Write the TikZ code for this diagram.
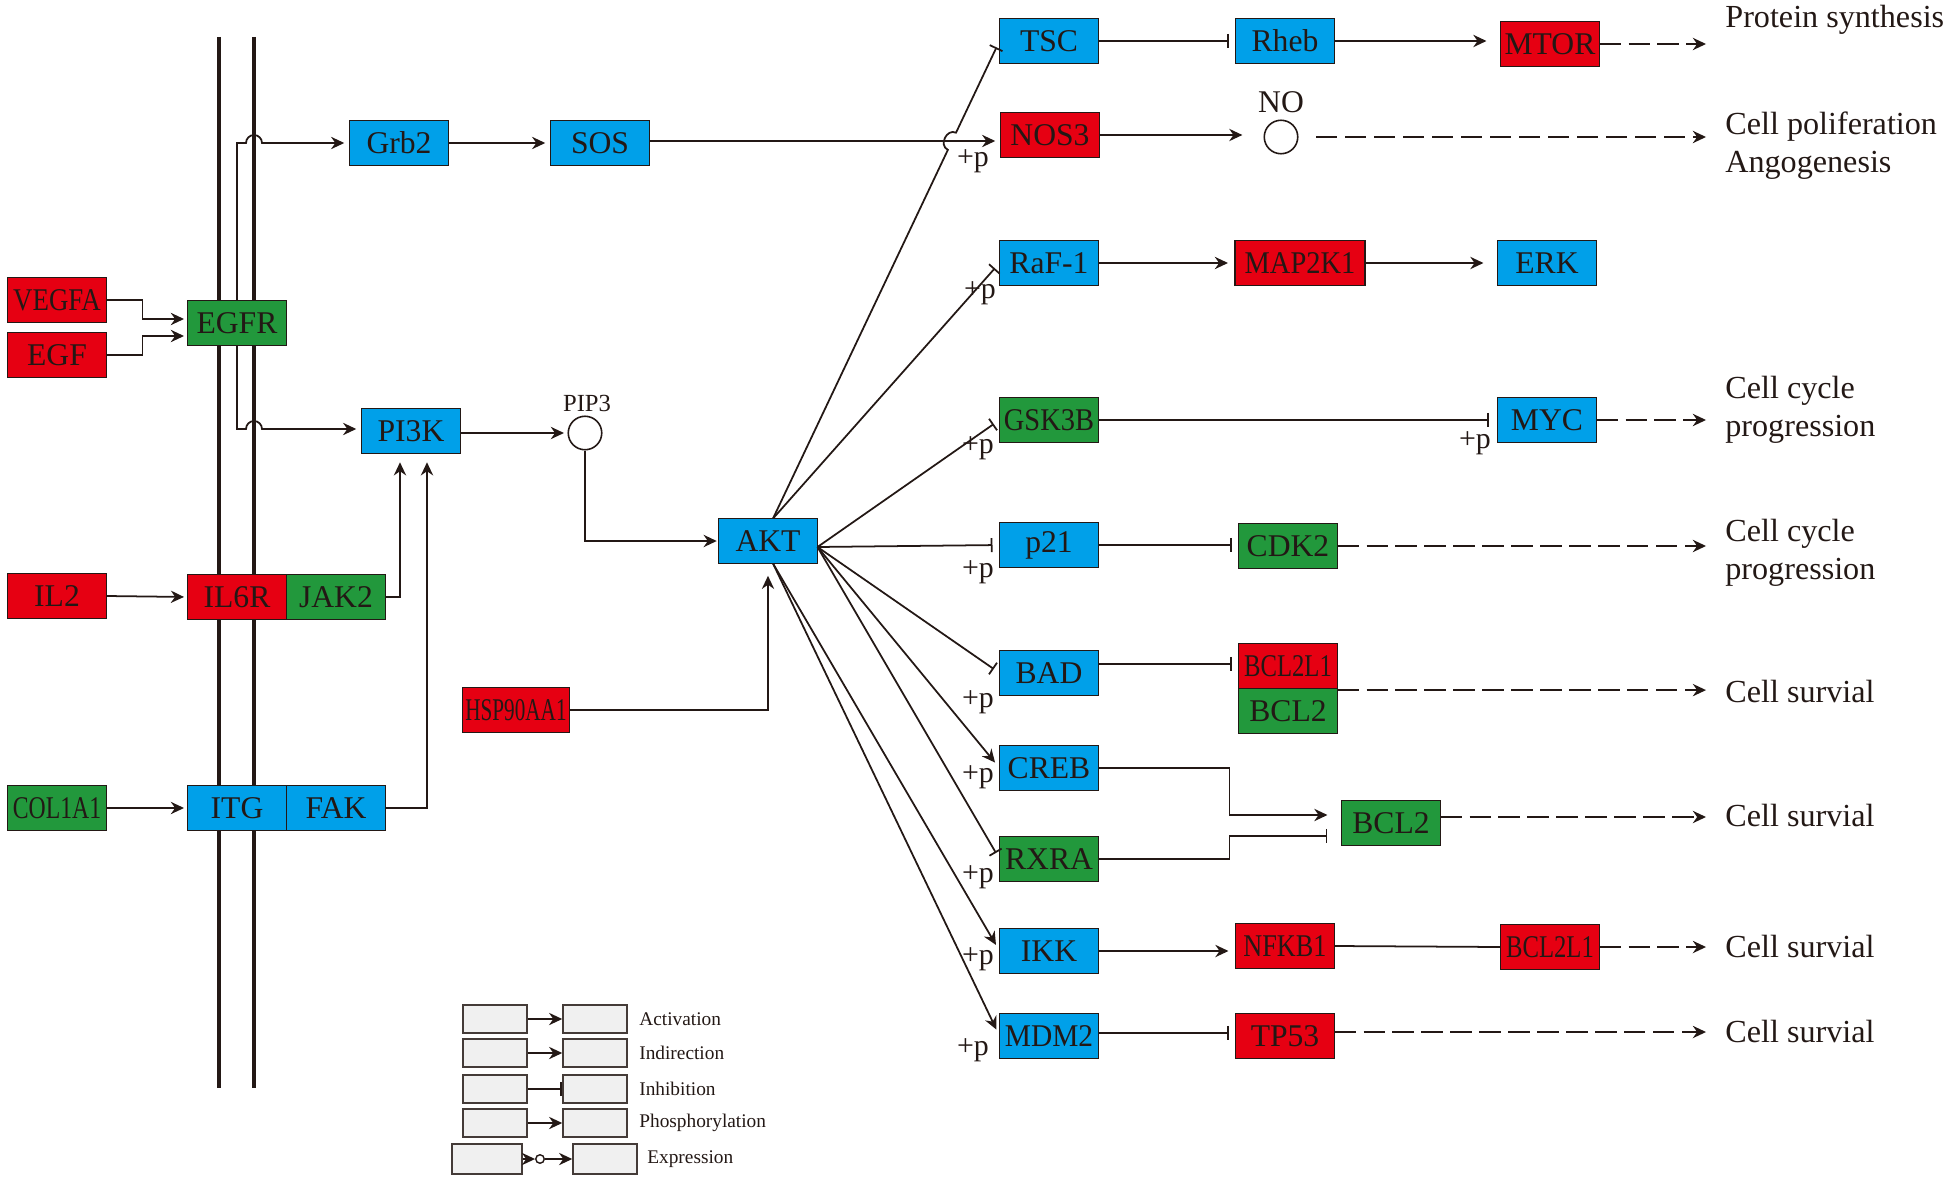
\documentclass[tikz,border=0pt]{standalone}
\usepackage{fontspec}
\setmainfont{Liberation Serif}
\usepackage{graphicx}
\usetikzlibrary{arrows.meta,positioning,calc}

\definecolor{kblue}{RGB}{0,160,233}
\definecolor{kred}{RGB}{230,0,18}
\definecolor{kgreen}{RGB}{34,152,60}
\definecolor{kink}{RGB}{35,24,21}
\newcommand{\nrw}[2]{\scalebox{#1}[1]{#2}}

\tikzset{
  gene/.style={draw=kink, line width=0.9pt, minimum width=1.98cm, minimum height=0.9cm,
    inner sep=0pt, outer sep=0pt, text=kink, font=\fontsize{18}{20}\selectfont},
  bl/.style={gene, fill=kblue},
  rd/.style={gene, fill=kred},
  gr/.style={gene, fill=kgreen},
  act/.style={draw=kink, line width=1pt, -{Stealth[length=7.5pt,width=7pt]}, shorten >=3pt},
  inh/.style={draw=kink, line width=1pt, -{Bar[width=8pt,line width=1pt]}, shorten >=3pt},
  link/.style={draw=kink, line width=1pt},
  expr/.style={draw=kink, line width=1pt, dash pattern=on 12pt off 4.5pt,
    -{Stealth[length=7.5pt,width=7pt]}},
  fate/.style={anchor=west, align=left, text=kink, inner sep=0pt,
    font=\fontsize{18.3}{21.6}\selectfont},
  plab/.style={text=kink, inner sep=0pt, font=\fontsize{17}{18}\selectfont},
  chem/.style={draw=kink, line width=0.9pt, circle, minimum size=0.67cm, inner sep=0pt},
  memb/.style={draw=kink, line width=2.8pt},
  lg/.style={draw=kink!85, fill=black!6, line width=0.9pt, minimum width=1.28cm,
    minimum height=0.56cm, inner sep=0pt},
  lgtxt/.style={anchor=west, text=kink, inner sep=0pt, font=\fontsize{11}{12}\selectfont}
}

\begin{document}
\begin{tikzpicture}[x=0.02cm, y=-0.02cm]
\useasboundingbox (0,0) rectangle (1946,1182);

% cell membrane
\coordinate (mL) at (219,37); \coordinate (mR) at (254,37);
\draw[memb] (mL) -- ++(0,1051);
\draw[memb] (mR) -- ++(0,1051);

% receptors and ligands
\node[rd] (VEGFA) at (57,300) {\nrw{.85}{VEGFA}};
\node[rd] (EGF) at (57,355) {EGF};
\node[gr] (EGFR) at (237,323) {EGFR};
\node[rd] (IL2) at (57,596) {IL2};
\node[rd] (IL6R) at (237,597) {IL6R};
\node[gr, right=0pt of IL6R] (JAK2) {JAK2};
\node[gr] (COL1A1) at (57,808) {\nrw{.75}{COL1A1}};
\node[bl] (ITG) at (237,808) {ITG};
\node[bl, right=0pt of ITG] (FAK) {FAK};

% upstream
\node[bl] (Grb2) at (399,143) {Grb2};
\node[bl] (SOS) at (600,143) {SOS};
\node[bl] (PI3K) at (411,431) {PI3K};
\node[chem] (PIP3) at (585,433) {};
\node[plab, font=\fontsize{14}{15}\selectfont] (PIP3lab) at (587,403) {PIP3};
\node[bl] (AKT) at (768,541) {AKT};
\node[rd, minimum width=2.14cm] (HSP) at (516,710) {\nrw{.67}{HSP90AA1}};

% AKT targets
\node[bl] (TSC) at (1049,41) {TSC};
\node[rd] (NOS3) at (1050,135) {NOS3};
\node[bl] (RaF1) at (1049,263) {RaF-1};
\node[gr] (GSK3B) at (1049,420) {\nrw{.9}{GSK3B}};
\node[bl] (p21) at (1049,545) {p21};
\node[bl] (BAD) at (1049,673) {BAD};
\node[bl] (CREB) at (1049,768) {CREB};
\node[gr] (RXRA) at (1049,859) {RXRA};
\node[bl] (IKK) at (1049,951) {IKK};
\node[bl] (MDM2) at (1049,1036) {\nrw{.93}{MDM2}};

% second row
\node[bl] (Rheb) at (1285,41) {Rheb};
\node[chem] (NO) at (1281,137) {};
\node[plab, font=\fontsize{18}{19}\selectfont] (NOlab) at (1281,102) {NO};
\node[rd, minimum width=2.6cm] (MAP2K1) at (1300,263) {\nrw{.9}{MAP2K1}};
\node[gr] (CDK2) at (1288,546) {CDK2};
\node[rd] (BCL2L1a) at (1288,666) {\nrw{.78}{BCL2L1}};
\node[gr, below=0pt of BCL2L1a] (BCL2a) {BCL2};
\node[gr] (BCL2b) at (1391,823) {BCL2};
\node[rd] (NFKB1) at (1285,946) {\nrw{.83}{NFKB1}};
\node[rd] (TP53) at (1285,1036) {TP53};

% third row
\node[rd] (MTOR) at (1550,44) {MTOR};
\node[bl] (ERK) at (1547,263) {ERK};
\node[bl] (MYC) at (1547,420) {MYC};
\node[rd] (BCL2L1b) at (1550,947) {\nrw{.78}{BCL2L1}};

% outcomes
\node[fate] (fPS) at (1725,20) {Protein synthesis};
\node[fate] (fCP) at (1725,146) {Cell poliferation\\Angogenesis};
\node[fate] (fCC1) at (1725,410) {Cell cycle\\progression};
\node[fate] (fCC2) at (1725,553) {Cell cycle\\progression};
\node[fate] (fCS1) at (1725,691) {Cell survial};
\node[fate] (fCS2) at (1725,815) {Cell survial};
\node[fate] (fCS3) at (1725,946) {Cell survial};
\node[fate] (fCS4) at (1725,1031) {Cell survial};
\coordinate (fx) at (1706,0);

% membrane signalling
\draw[act, shorten >=2pt] (VEGFA.east) -- ++(36,0) |- ($(EGFR.west)+(0,-4)$);
\draw[act, shorten >=2pt] (EGF.east) -- ++(36,0) |- ($(EGFR.west)+(0,13)$);
\draw[act] (EGFR.north) |- ($(mR |- Grb2)+(-8,0)$) arc[start angle=180,end angle=360,radius=8] -- (Grb2.west);
\draw[act] (EGFR.south) |- ($(mR |- PI3K)+(-8,-2)$) arc[start angle=180,end angle=360,radius=8] -- ($(PI3K.west)+(0,-2)$);
\draw[act, shorten >=2pt] (IL2.east) -- (IL6R.west);
\draw[act, shorten >=2pt] (COL1A1.east) -- (ITG.west);
\draw[act, shorten >=5pt] (JAK2.east) -| ($(PI3K.south)+(-11,0)$);
\draw[act, shorten >=5pt] (FAK.east) -| ($(PI3K.south)+(16,0)$);
\draw[act] (Grb2.east) -- (SOS.west);
\draw[act] ($(SOS.east)+(0,-2)$) -- ($(SOS.east -| NOS3.west)+(0,-2)$);
\draw[act, shorten >=2pt] ($(PI3K.east)+(0,2)$) -- (PIP3.west);
\draw[act, shorten >=1pt] (PIP3.south) |- (AKT.west);
\draw[act, shorten >=7pt] (HSP.east) -| (AKT.south);

% AKT fan
\coordinate (akN) at ($(AKT.north)+(5,0)$);
\coordinate (akE) at ($(AKT.east)+(0,6)$);
\coordinate (akS) at ($(AKT.south)+(5,0)$);
\draw[inh, shorten >=4pt] (akN) -- ($(akN)!0.772!(TSC.west)$) to[bend left=90, looseness=1.4] ($(akN)!0.808!(TSC.west)$) -- (TSC.west);
\draw[inh, shorten >=4pt] (akN) -- (RaF1.west);
\draw[inh, shorten >=4pt] (akE) -- (GSK3B.west);
\draw[inh, shorten >=4pt] (akE) -- (p21.west);
\draw[inh, shorten >=4pt] (akE) -- (BAD.west);
\draw[act, shorten >=4pt] (akE) -- (CREB.west);
\draw[inh, shorten >=4pt] (akE) -- (RXRA.west);
\draw[act, shorten >=4pt] (akS) -- (IKK.west);
\draw[act, shorten >=4pt] (akS) -- (MDM2.west);
\foreach \g/\dx/\dy in {NOS3/-77/26, RaF1/-69/30, GSK3B/-71/28, p21/-71/27, BAD/-71/29,
  CREB/-71/9, RXRA/-71/18, IKK/-71/8, MDM2/-76/14, MYC/-72/23}
  \node[plab] (p\g) at ($(\g)+(\dx,\dy)$) {+p};

% downstream
\draw[inh, shorten >=4pt] (TSC.east) -- (Rheb.west);
\draw[act, shorten >=8pt] (Rheb.east) -- (Rheb.east -| MTOR.west);
\draw[act, shorten >=12pt] (NOS3.east) -- (NOS3.east -| NO.west);
\draw[act, shorten >=4pt] (RaF1.east) -- (MAP2K1.west);
\draw[act, shorten >=8pt] (MAP2K1.east) -- (ERK.west);
\draw[inh, shorten >=5pt] (GSK3B.east) -- (MYC.west);
\draw[inh, shorten >=4pt] (p21.east) -- (p21.east -| CDK2.west);
\draw[inh, shorten >=4pt] ($(BAD.east)+(0,-9)$) -- ($(BAD.east -| BCL2L1a.west)+(0,-9)$);
\draw[act, shorten >=8pt] (CREB.east) -- ++(131,0) |- ($(BCL2b.west)+(0,-8)$);
\draw[inh, shorten >=8pt] (RXRA.east) -- ++(131,0) |- ($(BCL2b.west)+(0,13)$);
\draw[act, shorten >=4pt] (IKK.east) -- (IKK.east -| NFKB1.west);
\draw[link] (NFKB1.east) -- (BCL2L1b.west);
\draw[inh, shorten >=4pt] ($(MDM2.east)+(0,-3)$) -- ($(MDM2.east -| TP53.west)+(0,-3)$);

% dashed outcomes
\draw[expr] (MTOR.east) -- (MTOR.east -| fx);
\draw[expr, shorten <=10pt] (NO.east) -- (NO.east -| fx);
\draw[expr] (MYC.east) -- (MYC.east -| fx);
\draw[expr] (CDK2.east) -- (CDK2.east -| fx);
\draw[expr] ($(BCL2L1a.south east)+(0,1.6)$) -- ($(BCL2L1a.south east -| fx)+(0,1.6)$);
\draw[expr] ($(BCL2b.east)+(0,-6)$) -- ($(BCL2b.east -| fx)+(0,-6)$);
\draw[expr] (BCL2L1b.east) -- (BCL2L1b.east -| fx);
\draw[expr] ($(TP53.east)+(0,-4)$) -- ($(TP53.east -| fx)+(0,-4)$);

% legend
\foreach \r/\y/\t in {1/1019/Activation, 2/1053/Indirection, 3/1089/Inhibition, 4/1123/Phosphorylation} {
  \node[lg] (la\r) at (495,\y) {};
  \node[lg] (lb\r) at (595,\y) {};
  \node[lgtxt] (lt\r) at (639,\y) {\t};
}
\draw[act, shorten >=0pt] (la1) -- (lb1);
\draw[act, shorten >=0pt] (la2) -- (lb2);
\draw[inh, shorten >=0pt] (la3) -- (lb3);
\draw[act, shorten >=0pt] (la4) -- (lb4);
\node[lg, minimum width=1.4cm, minimum height=0.6cm] (la5) at (487,1159) {};
\node[lg, minimum height=0.6cm] (lb5) at (605,1159) {};
\node[draw=kink, line width=0.8pt, circle, minimum size=0.17cm, inner sep=0pt] (lc5) at (540,1159) {};
\draw[act, shorten >=0pt] (la5) -- (lc5);
\draw[act, shorten >=0pt] (lc5) -- (lb5);
\node[lgtxt] (lt5) at (647,1159) {Expression};
\end{tikzpicture}
\end{document}
